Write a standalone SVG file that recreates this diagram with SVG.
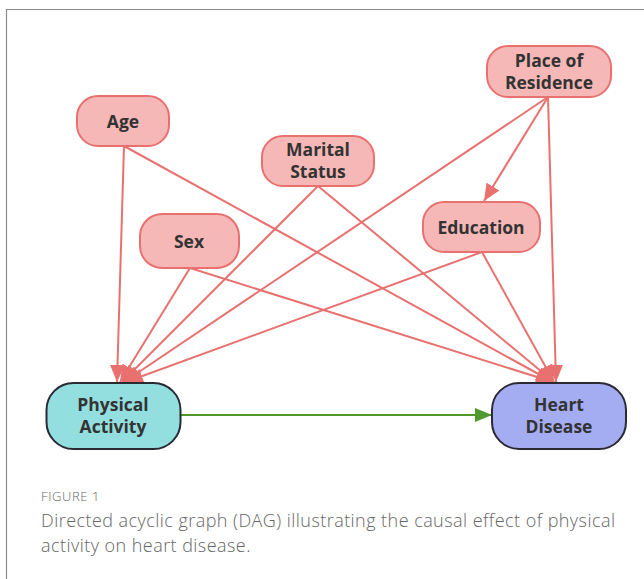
<svg xmlns="http://www.w3.org/2000/svg" width="644" height="579" viewBox="0 0 644 579">
<defs>
<style>
.c{fill:#f5b8b7;stroke:#e8716f;stroke-width:2}
.t{font-family:"Open Sans","Liberation Sans",sans-serif;font-weight:700;font-size:17.5px;fill:#333;text-anchor:middle}
.e{stroke:#e8716f;stroke-width:2;fill:none;marker-end:url(#ar)}
.cap{font-family:"Open Sans","Liberation Sans",sans-serif;font-weight:300;fill:#666}
</style>
<marker id="ar" viewBox="0 0 17 15" refX="17" refY="7.5" markerWidth="17" markerHeight="15" markerUnits="userSpaceOnUse" orient="auto">
<path d="M0,0 L17,7.5 L0,15 z" fill="#e8716f"/>
</marker>
<marker id="ag" viewBox="0 0 17 14" refX="17" refY="7" markerWidth="17" markerHeight="14" markerUnits="userSpaceOnUse" orient="auto">
<path d="M0,0 L17,7 L0,14 z" fill="#4f9a2e"/>
</marker>
</defs>
<rect x="0" y="0" width="644" height="579" fill="#fff"/>
<path d="M6.5,600 L6.5,9.5 L660,9.5" fill="none" stroke="#8a8a8a" stroke-width="1.2"/>
<g id="connectors">
<line class="e" x1="124" y1="146" x2="117" y2="382"/>
<line class="e" x1="124" y1="146" x2="553" y2="382"/>
<line class="e" x1="318" y1="186" x2="122" y2="382"/>
<line class="e" x1="318" y1="186" x2="554" y2="382"/>
<line class="e" x1="190" y1="268" x2="120" y2="382"/>
<line class="e" x1="190" y1="268" x2="553" y2="382"/>
<line class="e" x1="548" y1="97" x2="484" y2="201"/>
<line class="e" x1="548" y1="97" x2="124" y2="382"/>
<line class="e" x1="548" y1="97" x2="556" y2="382"/>
<line class="e" x1="482" y1="252" x2="126" y2="382"/>
<line class="e" x1="482" y1="252" x2="554" y2="382"/>
<line x1="181" y1="415" x2="492" y2="415" stroke="#4f9a2e" stroke-width="2" marker-end="url(#ag)"/>
</g>
<g id="age"><rect class="c" x="77" y="96" width="92" height="50" rx="21"/><text class="t" x="123" y="128">Age</text></g>
<g id="marital"><rect class="c" x="262" y="136" width="112" height="50" rx="21"/><text class="t" x="318" y="156">Marital</text><text class="t" x="318" y="178">Status</text></g>
<g id="sex"><rect class="c" x="140" y="214" width="99" height="54" rx="22"/><text class="t" x="189" y="248">Sex</text></g>
<g id="place"><rect class="c" x="487" y="46" width="124" height="51" rx="21"/><text class="t" x="549" y="67">Place of</text><text class="t" x="549" y="89">Residence</text></g>
<g id="education"><rect class="c" x="423" y="202" width="117" height="50" rx="21"/><text class="t" x="481" y="234">Education</text></g>
<g id="physical"><rect x="46.5" y="383" width="134" height="66" rx="27" fill="#93dfe0" stroke="#2a2a35" stroke-width="2"/><text class="t" x="113" y="411">Physical</text><text class="t" x="113" y="433">Activity</text></g>
<g id="heart"><rect x="492" y="383" width="134" height="66" rx="27" fill="#a5adf2" stroke="#2a2a35" stroke-width="2"/><text class="t" x="559" y="411">Heart</text><text class="t" x="559" y="433">Disease</text></g>
<text class="cap" x="41" y="501" font-size="13" fill="#555" font-weight="400" letter-spacing="0.6">FIGURE 1</text>
<text class="cap" x="41" y="527" font-size="18" letter-spacing="0.45">Directed acyclic graph (DAG) illustrating the causal effect of physical</text>
<text class="cap" x="41" y="552" font-size="18" letter-spacing="0.45">activity on heart disease.</text>
</svg>
